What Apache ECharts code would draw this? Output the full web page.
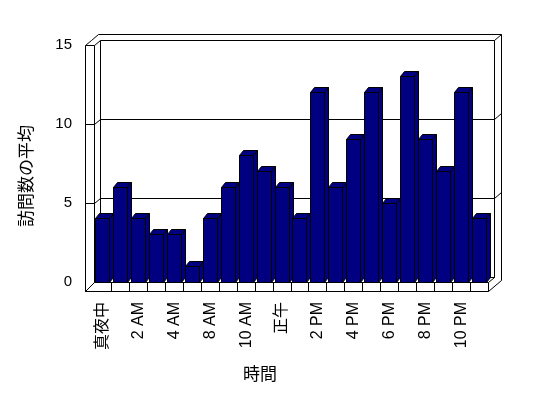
<!DOCTYPE html>
<html><head><meta charset="utf-8">
<script src="https://cdn.jsdelivr.net/npm/echarts@6/dist/echarts.min.js"></script>
<style>html,body{margin:0;padding:0;background:#fff}#c{width:548px;height:398px}</style>
</head><body><div id="c"></div>
<script>
const categories = ['真夜中','1 AM','2 AM','3 AM','4 AM','7 AM','8 AM','9 AM','10 AM','11 AM','正午','1 PM','2 PM','3 PM','4 PM','5 PM','6 PM','7 PM','8 PM','9 PM','10 PM','11 PM'];
const visits = [4,6,4,3,3,1,4,6,8,7,6,4,12,6,9,12,5,13,9,7,12,4];
const yTicks = [0,5,10,15];
const xTitle = '時間';
const yTitle = '訪問数の平均';

const FONT = '"Liberation Sans","Noto Sans CJK JP",sans-serif';
const snap = v => Math.round(v - 0.5) + 0.5;
const D1 = [6.5, -5];   // depth from front plane to back wall
const D2 = [7, -6];     // back wall thickness
const WALL = 9, FLOOR = 9;
const LINE = {stroke:'#000', lineWidth:1, fill:null};

function pl(pts, fill) {
  return {type: fill ? 'polygon' : 'polyline',
    shape:{points: pts.map(p => [snap(p[0]), snap(p[1])])},
    style: fill ? {stroke:'#000', lineWidth:1, fill:fill} : LINE};
}

function renderFrame(params, api) {
  const cs = params.coordSys;
  const L = cs.x, R = cs.x + cs.width, T = cs.y, B = cs.y + cs.height;
  const bl = L + D1[0], br = R + D1[0], bt = T + D1[1], bb = B + D1[1];
  const ch = [];
  // back wall face
  ch.push(pl([[bl,bt],[br,bt],[br,bb],[bl,bb]], '#fff'));
  // back wall thickness outline
  ch.push(pl([[L-WALL,T],[L-WALL+D1[0],bt],[L-WALL+D1[0]+D2[0],bt+D2[1]],[br+D2[0],bt+D2[1]],[br+D2[0],B+FLOOR+D1[1]+D2[1]]]));
  ch.push(pl([[br,bt],[br+D2[0],bt+D2[1]]]));
  // left wall
  ch.push(pl([[L-WALL,T],[L,T],[L,B],[L-WALL,B+FLOOR],[L-WALL,T]], '#fff'));
  ch.push(pl([[L,T],[bl,bt]]));
  // floor top and front
  ch.push(pl([[L,B],[R,B],[br,bb],[bl,bb]], '#fff'));
  ch.push(pl([[L-WALL,B+FLOOR],[R,B+FLOOR],[R,B]]));
  ch.push(pl([[R,B+FLOOR],[R+D1[0]+D2[0],B+FLOOR+D1[1]+D2[1]]]));
  ch.push(pl([[L,B],[L-WALL,B+FLOOR]]));
  const n = categories.length, step = cs.width / n;
  for (let i = 1; i < n; i++) {
    const x = L + i * step;
    ch.push(pl([[x,B],[x,B+FLOOR]]));
  }
  // grid lines
  yTicks.forEach(v => {
    if (v === 0 || v === 15) return;
    const y = api.coord([0, v])[1];
    ch.push(pl([[L-WALL,y],[L,y],[bl,y+D1[1]],[br,y+D1[1]],[br+D2[0],y+D1[1]+D2[1]]]));
  });
  return {type:'group', children: ch};
}

function renderBar(params, api) {
  const x = api.value(0), v = api.value(1);
  const p0 = api.coord([x, 0]), p1 = api.coord([x, v]);
  const w = api.size([1, 0])[0] * 14 / 17.9;
  const l = p0[0] - w / 2, r = p0[0] + w / 2, t = p1[1], b = p0[1];
  const dx = 4, dy = -5;
  const c = '#000080';
  return {type:'group', children:[
    pl([[r,b],[r,t],[r+dx,t+dy],[r+dx,b+dy]], c),
    pl([[l,t],[r,t],[r+dx,t+dy],[l+dx,t+dy]], c),
    pl([[l,t],[r,t],[r,b],[l,b]], c)
  ]};
}

const chart = echarts.init(document.getElementById('c'));
chart.setOption({
  backgroundColor:'#fff',
  animation:false,
  grid:{left:94, right:60, top:45, bottom:116},
  xAxis:{type:'category', data:categories, axisLine:{show:false}, axisTick:{show:false},
    axisLabel:{interval:1, rotate:90, margin:20, fontSize:16, color:'#000', fontFamily:FONT}},
  yAxis:{type:'value', min:0, max:15, interval:5, axisLine:{show:false}, axisTick:{show:false}, splitLine:{show:false},
    axisLabel:{margin:22, fontSize:15, color:'#000', fontFamily:FONT}},
  graphic:[
    {type:'text', x:27, y:176, rotation:Math.PI/2, style:{text:yTitle, align:'center', verticalAlign:'middle', font:'17px '+FONT, fill:'#000'}},
    {type:'text', x:260, y:375, style:{text:xTitle, align:'center', verticalAlign:'middle', font:'17px '+FONT, fill:'#000'}}
  ],
  series:[
    {type:'custom', renderItem:renderFrame, data:[[0,0]], z:1, silent:true, clip:false},
    {type:'custom', renderItem:renderBar, data:visits.map((v,i)=>[i,v]), z:2, clip:false}
  ]
});
</script></body></html>
